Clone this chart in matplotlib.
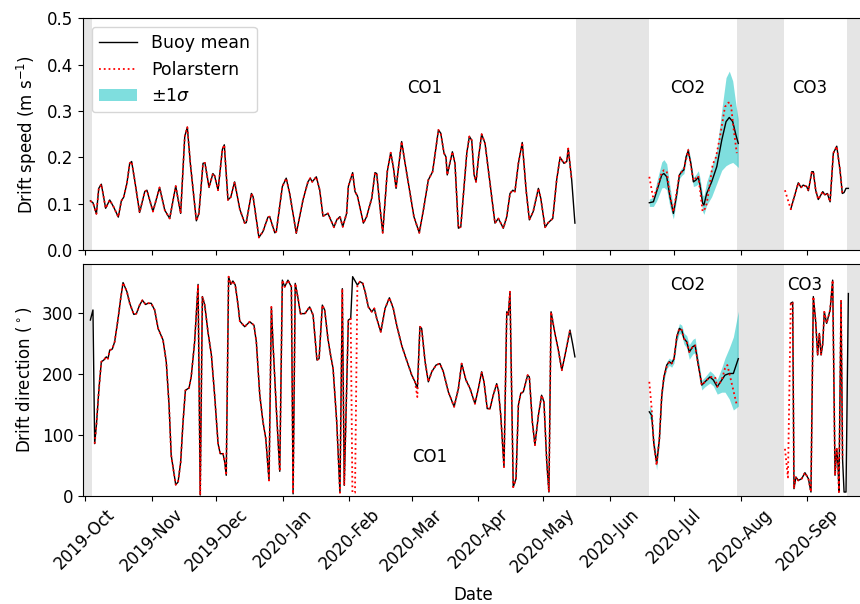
import numpy as np
import pandas as pd
import matplotlib
matplotlib.use("Agg")
import matplotlib.pyplot as plt
import matplotlib.dates as mdates
from matplotlib.lines import Line2D
from matplotlib.patches import Patch

plt.rcParams["font.size"] = 12

T0 = pd.Timestamp("2019-10-01")

# ---- drift speed (m/s), time in days since 2019-10-01 ----
spd_days_co1 = [2.5, 3.7, 5.3, 6.4, 7.6, 9.6, 11.5, 13.3, 15.5, 16.9,
                18.0, 19.5, 20.8, 21.7, 23.1, 25.4, 27.8, 28.8, 31.6, 34.7,
                37.1, 39.4, 42.2, 44.5, 46.4, 47.6, 49.0, 51.8, 53.0, 54.9,
                55.8, 57.7, 59.5, 60.3, 61.9, 63.9, 64.8, 66.5, 67.8, 69.6,
                72.0, 74.3, 75.0, 77.4, 78.2, 80.9, 82.8, 85.1, 85.9, 88.3,
                89.0, 91.8, 93.6, 95.2, 98.3, 101.4, 103.7, 104.8, 105.7, 107.6,
                109.2, 110.7, 113.0, 115.8, 117.1, 118.6, 119.9, 121.7, 122.5, 124.5,
                125.6, 126.7, 129.5, 131.0, 133.4, 134.9, 135.7, 137.2, 138.5, 140.6,
                142.2, 143.4, 144.7, 145.7, 147.3, 148.9, 151.2, 153.0, 155.5, 157.4,
                159.7, 161.7, 164.4, 165.5, 167.0, 167.9, 168.5, 170.9, 172.1, 173.7,
                174.8, 177.6, 178.8, 179.9, 181.0, 181.9, 183.1, 184.5, 186.1, 188.4,
                190.7, 192.3, 194.6, 196.2, 197.7, 199.0, 200.0, 201.6, 203.4, 205.2,
                206.7, 208.5, 210.9, 212.0, 214.0, 215.5, 217.6, 219.4, 221.0, 222.8,
                224.1, 224.8, 226.4, 227.9]
spd_co1 = [0.106, 0.102, 0.078, 0.133, 0.142, 0.090, 0.108, 0.093, 0.071, 0.106,
           0.114, 0.144, 0.187, 0.191, 0.151, 0.081, 0.126, 0.129, 0.083, 0.135,
           0.086, 0.068, 0.138, 0.079, 0.245, 0.265, 0.187, 0.063, 0.079, 0.187,
           0.188, 0.135, 0.165, 0.160, 0.129, 0.217, 0.227, 0.108, 0.114, 0.147,
           0.088, 0.058, 0.059, 0.122, 0.115, 0.027, 0.040, 0.071, 0.072, 0.037,
           0.040, 0.137, 0.155, 0.122, 0.036, 0.108, 0.147, 0.155, 0.147, 0.158,
           0.129, 0.073, 0.079, 0.049, 0.065, 0.072, 0.050, 0.079, 0.137, 0.167,
           0.126, 0.117, 0.058, 0.072, 0.112, 0.167, 0.165, 0.093, 0.037, 0.169,
           0.210, 0.180, 0.133, 0.173, 0.234, 0.187, 0.122, 0.072, 0.037, 0.086,
           0.151, 0.169, 0.259, 0.252, 0.209, 0.201, 0.162, 0.212, 0.187, 0.047,
           0.050, 0.209, 0.245, 0.237, 0.162, 0.147, 0.201, 0.250, 0.230, 0.144,
           0.058, 0.068, 0.047, 0.072, 0.122, 0.129, 0.126, 0.187, 0.232, 0.129,
           0.065, 0.083, 0.133, 0.112, 0.049, 0.059, 0.068, 0.151, 0.200, 0.187,
           0.191, 0.219, 0.151, 0.058]

spd_days_co2 = [262.5, 264.4, 265.9, 268.3, 269.3, 270.6, 272.1, 273.7, 275.3, 276.5,
                277.6, 278.6, 279.6, 280.6, 281.8, 283.0, 284.2, 285.3, 286.1, 287.3,
                287.9, 289.2, 291.5, 293.9, 296.2, 298.2, 299.7, 301.3, 302.8, 303.9]
spd_co2 = [0.102, 0.104, 0.126, 0.162, 0.165, 0.158, 0.115, 0.079, 0.122, 0.162,
           0.169, 0.173, 0.201, 0.214, 0.187, 0.147, 0.151, 0.157, 0.140, 0.101,
           0.097, 0.122, 0.147, 0.180, 0.237, 0.277, 0.286, 0.277, 0.248, 0.230]
spd_sig_co2 = [0.008, 0.010, 0.020, 0.028, 0.030, 0.028, 0.022, 0.012, 0.010, 0.008,
               0.008, 0.008, 0.008, 0.008, 0.008, 0.010, 0.012, 0.014, 0.015, 0.018,
               0.020, 0.025, 0.032, 0.036, 0.065, 0.095, 0.100, 0.088, 0.065, 0.052]
ps_spd_days_co2 = [262.5, 264.2, 265.9, 268.3, 269.3, 270.6, 272.1, 273.7, 276.5, 278.6,
                   280.6, 283.0, 285.3, 287.3, 288.5, 289.2, 290.4, 292.0, 293.5, 295.4,
                   297.7, 299.3, 300.4, 301.6, 303.2]
ps_spd_co2 = [0.158, 0.115, 0.128, 0.168, 0.172, 0.170, 0.118, 0.082, 0.162, 0.175,
              0.216, 0.150, 0.160, 0.083, 0.090, 0.100, 0.135, 0.185, 0.200, 0.245,
              0.309, 0.318, 0.317, 0.266, 0.209]

spd_days_co3 = [328.3, 331.8, 333.1, 334.1, 335.7, 336.5, 338.1, 338.8, 339.9, 341.1,
                343.2, 344.2, 345.3, 346.6, 348.1, 349.7, 351.2, 352.3, 353.1, 354.0,
                355.1]
spd_co3 = [0.088, 0.145, 0.135, 0.140, 0.137, 0.128, 0.169, 0.169, 0.129, 0.109,
           0.126, 0.119, 0.122, 0.104, 0.209, 0.224, 0.173, 0.122, 0.124, 0.133,
           0.133]
ps_spd_start_co3 = ([325.6], [0.129])

# ---- drift direction (deg) ----
dir_days_co1 = [2.5, 3.7, 4.5, 5.3, 6.5, 7.6, 8.7, 9.9, 10.7, 11.5,
                12.7, 13.8, 15.4, 16.6, 17.7, 19.5, 20.8, 22.7, 23.9, 25.4,
                26.7, 28.2, 29.3, 30.8, 32.4, 34.0, 36.3, 37.8, 39.1, 40.1,
                42.2, 43.3, 44.5, 45.6, 46.7, 48.4, 49.4, 51.0, 52.6, 53.6,
                54.6, 55.7, 57.2, 58.8, 60.3, 61.9, 62.9, 64.2, 65.0, 65.7,
                66.8, 67.8, 68.8, 69.9, 71.2, 72.0, 74.3, 76.6, 78.6, 79.7,
                81.3, 82.8, 84.1, 85.6, 86.7, 87.5, 89.0, 90.6, 91.8, 92.9,
                94.4, 96.0, 96.8, 97.8, 99.1, 100.2, 102.3, 104.5, 106.1, 107.9,
                108.9, 110.4, 111.5, 113.0, 114.1, 115.4, 117.1, 118.6, 119.7, 120.6,
                122.5, 123.6, 124.5, 126.7, 127.9, 129.2, 130.3, 131.8, 133.4, 134.6,
                135.7, 137.6, 139.6, 141.6, 143.4, 145.0, 147.3, 149.6, 152.0, 153.5,
                154.6, 155.8, 156.6, 158.2, 159.7, 161.3, 163.3, 165.1, 166.7, 169.0,
                171.7, 173.7, 175.2, 177.2, 179.1, 181.4, 183.0, 184.5, 185.6, 187.1,
                188.4, 189.9, 191.5, 192.3, 193.4, 194.9, 196.2, 196.9, 197.7, 198.5,
                199.2, 200.5, 201.6, 202.7, 203.9, 205.9, 206.7, 208.1, 209.3, 210.9,
                212.4, 213.5, 214.8, 215.8, 216.8, 218.6, 220.2, 221.8, 223.3, 225.6,
                226.8, 227.9]
dir_co1 = [288.5, 305, 85.5, 115.8, 176, 220, 222.6, 228, 225, 239,
           240.8, 252.8, 291, 324, 350, 335, 316, 297.7, 299, 313,
           321, 314, 316, 316, 305, 274.7, 255.6, 220, 148.7, 66.4,
           18, 22.5, 55, 121, 173, 177, 195, 252.8, 347, 1,
           327, 313, 269, 231, 165, 85.5, 69, 69, 55, 33.5,
           359.7, 347, 352.6, 346, 313, 286.8, 277.5, 285.7, 280, 252.8,
           165, 121, 93.8, 25, 310, 247, 143, 40, 354, 343,
           354, 343, 3, 348.7, 324, 299, 299, 310, 296.7, 222.7,
           225, 313, 305, 258, 233.6, 209, 121, 5, 340, 17,
           288.5, 291, 359.7, 346, 351.5, 348.7, 335, 310, 302, 307.6,
           291, 269, 307.6, 325, 307.6, 280, 247, 222.7, 198, 187,
           176, 277.5, 274.7, 220, 187, 203.5, 214.5, 217, 203.5, 170.6,
           146, 176, 217, 190, 176, 151, 176, 203.5, 187, 143,
           143, 165, 184, 173, 132, 47, 302, 296.7, 335, 159.5,
           14, 28, 148.7, 168, 170.6, 198, 195, 121, 83, 132,
           165, 154, 55, 6, 302, 266.5, 239, 206, 231, 272,
           250, 228]
# Polarstern departs from the buoy mean at a few places in CO1
ps_dir_extra_co1 = {124.4: 5, 125.6: 5}
ps_dir_low_co1 = {154.6: 162}

dir_days_co2 = [262.5, 263.6, 264.6, 265.9, 267.2, 268.3, 269.3, 270.6, 271.8, 272.9,
                274.0, 275.3, 276.5, 277.6, 278.6, 279.9, 281.1, 282.7, 283.8, 284.8,
                286.9, 288.4, 290.7, 292.3, 294.1, 296.2, 297.7, 299.7, 301.6, 303.9]
dir_co2 = [137.7, 132, 85.5, 52.6, 93.8, 165, 195, 214.5, 220, 217,
           225, 261, 274.7, 272, 258, 252.8, 236, 244.6, 247, 225,
           181.6, 187, 195, 190, 178.8, 190, 198, 200.7, 200.7, 225]
dir_sig_co2 = [10, 9, 9, 10, 8, 7, 6, 6, 6, 6,
               7, 8, 8, 8, 9, 10, 12, 12, 12, 10,
               8, 8, 10, 10, 12, 20, 28, 42, 60, 78]
ps_dir_days_co2 = [262.5, 263.6, 264.6, 265.9, 267.2, 268.3, 269.3, 270.6, 271.8, 272.9,
                   274.0, 275.3, 276.5, 277.6, 278.6, 279.9, 281.1, 282.7, 283.8, 284.8,
                   286.9, 288.4, 290.7, 293.1, 294.1, 296.2, 297.7, 298.8, 299.8, 301.6,
                   303.2]
ps_dir_co2 = [187, 143, 85.5, 50, 93.8, 165, 195, 211.7, 220, 217,
              225, 261, 274.7, 272, 258, 252.8, 236, 244.6, 247, 225,
              181.6, 187, 195, 195, 178.8, 190, 209, 214.5, 200, 173,
              148.7]

dir_days_co3 = [328.3, 329.2, 329.8, 330.7, 331.8, 333.4, 334.9, 336.5, 337.7, 338.8,
                339.9, 340.8, 341.6, 342.4, 343.2, 343.9, 345.0, 346.6, 347.8, 348.9,
                349.7, 350.3, 350.7, 351.7, 352.4, 353.1, 354.0, 355.1]
dir_co3 = [316, 318, 11.5, 30.8, 25, 28, 37.8, 28, 6, 327,
           285.7, 231, 266.5, 231, 250, 302, 283, 305, 354, 33.5,
           77, 50, 6, 320, 60, 6, 6, 332]
ps_dir_start_co3 = ([325.6, 327.0], [77, 30])

# data gaps between the legs (days since 2019-10-01)
gaps = [(-2, 3.1), (228.4, 262.3), (303.3, 325.1), (354.6, 370)]


def to_dt(days):
    return T0 + pd.to_timedelta(np.asarray(days, dtype=float), unit="D")


# Polarstern series built from the buoy mean where they coincide
ps_spd_days_co1 = spd_days_co1[:-1]
ps_spd_co1 = spd_co1[:-1]
ps_spd_days_co3 = ps_spd_start_co3[0] + spd_days_co3[:18]
ps_spd_co3 = ps_spd_start_co3[1] + spd_co3[:18]

ps_dir1 = pd.Series(dir_co1, index=dir_days_co1).loc[4.5:225.6].drop(124.5)
for k, v in ps_dir_low_co1.items():
    ps_dir1[k] = v
ps_dir1 = pd.concat([ps_dir1, pd.Series(ps_dir_extra_co1)]).sort_index()
ps_dir_days_co3 = ps_dir_start_co3[0] + dir_days_co3[:25]
ps_dir_co3 = ps_dir_start_co3[1] + dir_co3[:25]

fig = plt.figure(figsize=(8.6, 6.04), dpi=100)
W, H = 860.0, 604.0
left, right = 83.3, 863.2
ax1 = fig.add_axes([left / W, (H - 250) / H, (right - left) / W, (250 - 18.3) / H])
ax2 = fig.add_axes([left / W, (H - 495.7) / H, (right - left) / W, (495.7 - 264.3) / H],
                   sharex=ax1)

CYAN = "c"
for ax in (ax1, ax2):
    for g0, g1 in gaps:
        ax.axvspan(to_dt([g0])[0], to_dt([g1])[0], color="grey", alpha=0.2, lw=0, zorder=0)

# speed
ax1.fill_between(to_dt(spd_days_co2), np.array(spd_co2) - np.array(spd_sig_co2),
                 np.array(spd_co2) + np.array(spd_sig_co2), color=CYAN, alpha=0.5, lw=0, zorder=1)
for d, v in [(spd_days_co1, spd_co1), (spd_days_co2, spd_co2), (spd_days_co3, spd_co3)]:
    ax1.plot(to_dt(d), v, color="k", lw=1.0, zorder=2)
for d, v in [(ps_spd_days_co1, ps_spd_co1), (ps_spd_days_co2, ps_spd_co2),
             (ps_spd_days_co3, ps_spd_co3)]:
    ax1.plot(to_dt(d), v, color="r", ls=":", lw=1.3, zorder=3)

# direction
ax2.fill_between(to_dt(dir_days_co2), np.array(dir_co2) - np.array(dir_sig_co2),
                 np.array(dir_co2) + np.array(dir_sig_co2), color=CYAN, alpha=0.5, lw=0, zorder=1)
for d, v in [(dir_days_co1, dir_co1), (dir_days_co2, dir_co2), (dir_days_co3, dir_co3)]:
    ax2.plot(to_dt(d), v, color="k", lw=1.0, zorder=2)
for d, v in [(list(ps_dir1.index), list(ps_dir1.values)), (ps_dir_days_co2, ps_dir_co2),
             (ps_dir_days_co3, ps_dir_co3)]:
    ax2.plot(to_dt(d), v, color="r", ls=":", lw=1.3, zorder=3)

ax1.set_ylim(0, 0.5)
ax1.set_yticks([0.0, 0.1, 0.2, 0.3, 0.4, 0.5])
ax2.set_ylim(0, 380)
ax2.set_yticks([0, 100, 200, 300])
ax1.set_xlim(to_dt([-0.79])[0], to_dt([362])[0])

ax1.set_ylabel("Drift speed (m s$^{-1}$)", labelpad=6)
ax2.set_ylabel("Drift direction ($^\\circ$)", labelpad=6)
ax2.set_xlabel("Date", labelpad=7)
ax2.xaxis.set_major_locator(mdates.MonthLocator())
ax2.xaxis.set_major_formatter(mdates.DateFormatter("%Y-%b"))
plt.setp(ax1.get_xticklabels(), visible=False)
plt.setp(ax2.get_xticklabels(), rotation=45)

ax1.text(to_dt([158.2])[0], 0.35, "CO1", ha="center", va="center")
ax1.text(to_dt([280.2])[0], 0.35, "CO2", ha="center", va="center")
ax1.text(to_dt([337.0])[0], 0.35, "CO3", ha="center", va="center")
ax2.text(to_dt([160.5])[0], 63, "CO1", ha="center", va="center")
ax2.text(to_dt([280.2])[0], 346, "CO2", ha="center", va="center")
ax2.text(to_dt([335.0])[0], 346, "CO3", ha="center", va="center")

handles = [Line2D([], [], color="k", lw=1.0),
           Line2D([], [], color="r", ls=":", lw=1.3),
           Patch(facecolor=CYAN, alpha=0.5, lw=0)]
ax1.legend(handles, ["Buoy mean", "Polarstern", "$\\pm1\\sigma$"], loc="upper left",
           fontsize=12.5, handlelength=2.2)

fig.savefig("out.png", dpi=100)
